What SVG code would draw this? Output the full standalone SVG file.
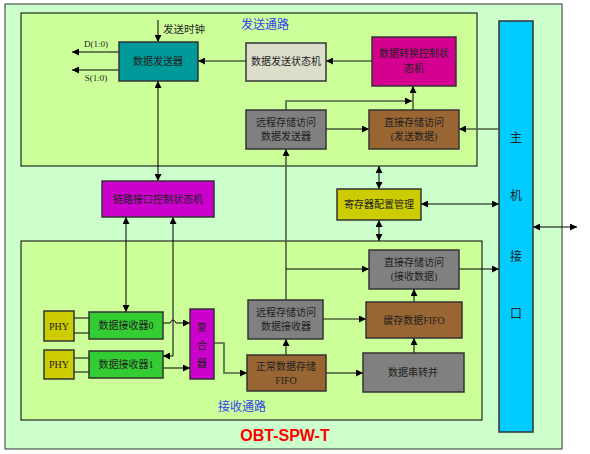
<svg xmlns="http://www.w3.org/2000/svg" width="590" height="454" viewBox="0 0 590 454">
<style>
.box{stroke:#333;stroke-width:1.5}
.t{font-family:"Liberation Serif","Noto Sans CJK SC",serif;font-size:10px;fill:#222;text-anchor:middle}
.lbl{font-family:"Liberation Serif","Noto Sans CJK SC",serif;font-size:12px;fill:#3344ee;text-anchor:middle}
.c{fill:none;stroke:#000;stroke-width:1}
.g{fill:none;stroke:#4f6040;stroke-width:1.6}
</style>
<defs>
<marker id="ah" viewBox="0 0 10 10" refX="10" refY="5" markerWidth="9" markerHeight="7" markerUnits="userSpaceOnUse" orient="auto-start-reverse">
<path d="M0,0 L10,5 L0,10 z" fill="#000"/>
</marker>
</defs>
<rect width="590" height="454" fill="#fff"/>
<g id="outer">
<rect x="5" y="4" width="557" height="445" fill="#CCFFCC" stroke="#333" stroke-width="1"/>
<text x="285" y="441" font-family="Liberation Sans,Arial,sans-serif" font-size="16" font-weight="bold" fill="#ff0000" text-anchor="middle">OBT-SPW-T</text>
</g>
<g id="tx-path">
<rect x="21" y="13" width="456" height="153" fill="#CCFF99" stroke="#000" stroke-width="1"/>
<text class="lbl" x="265" y="29">发送通路</text>
</g>
<g id="rx-path">
<rect x="21" y="241" width="461" height="179" fill="#CCFF99" stroke="#000" stroke-width="1"/>
<text class="lbl" x="242" y="411">接收通路</text>
</g>
<g id="connectors">
<path class="c" d="M158,20 V42" marker-end="url(#ah)"/>
<path class="c" d="M119,52 H72" marker-end="url(#ah)"/>
<path class="c" d="M119,70 H72" marker-end="url(#ah)"/>
<path class="g" d="M246,61 H198" marker-end="url(#ah)"/>
<path class="g" d="M372,61 H326" marker-end="url(#ah)"/>
<path class="c" d="M326,129 H369" marker-end="url(#ah)"/>
<path class="g" d="M499,129 H459" marker-end="url(#ah)"/>
<path class="g" d="M413,110 V86" marker-end="url(#ah)"/>
<path class="g" d="M286,110 V101 H412" marker-end="url(#ah)"/>
<path class="g" d="M286,300 V149" marker-end="url(#ah)"/>
<path class="c" d="M286,269 H369" marker-end="url(#ah)"/>
<path class="c" d="M158,81 V181" marker-start="url(#ah)" marker-end="url(#ah)"/>
<path class="c" d="M126,217 V312" marker-start="url(#ah)" marker-end="url(#ah)"/>
<path class="c" d="M173,217 V356 H163" marker-start="url(#ah)" marker-end="url(#ah)"/>
<path class="c" d="M163,323 H170 Q173,317 176,323 H190" marker-end="url(#ah)"/>
<path class="c" d="M163,368 H190" marker-end="url(#ah)"/>
<path class="g" d="M214,343 H224 V373 H247" marker-end="url(#ah)"/>
<path class="c" d="M286,355 V339" marker-end="url(#ah)"/>
<path class="g" d="M323,319 H366" marker-end="url(#ah)"/>
<path class="c" d="M326,373 H363" marker-end="url(#ah)"/>
<path class="c" d="M414,353 V338" marker-end="url(#ah)"/>
<path class="c" d="M414,302 V289" marker-end="url(#ah)"/>
<path class="c" d="M459,269 H499" marker-end="url(#ah)"/>
<path class="c" d="M379,166 V189" marker-start="url(#ah)" marker-end="url(#ah)"/>
<path class="c" d="M379,220 V241" marker-start="url(#ah)" marker-end="url(#ah)"/>
<path class="c" d="M421,204 H499" marker-start="url(#ah)" marker-end="url(#ah)"/>
<path class="c" d="M533,227 H577" marker-start="url(#ah)" marker-end="url(#ah)"/>
<path class="c" d="M74,318 H89 M74,333 H89"/>
<path class="g" d="M74,358 H89"/>
<path class="c" d="M74,372 H89"/>
</g>
<g id="clk-labels">
<text class="t" x="184" y="33" style="font-size:10.5px">发送时钟</text>
<text class="t" x="96" y="47" style="font-size:9px">D(1:0)</text>
<text class="t" x="96" y="81" style="font-size:9px">S(1:0)</text>
</g>
<g id="host">
<rect class="box" x="499" y="21" width="34" height="411" fill="#00CCFF"/>
<text class="t" x="516" y="142" style="font-size:12px">主</text>
<text class="t" x="516" y="200" style="font-size:12px">机</text>
<text class="t" x="516" y="261" style="font-size:12px">接</text>
<text class="t" x="516" y="318" style="font-size:12px">口</text>
</g>
<g id="data-tx">
<rect class="box" x="119" y="42" width="79" height="39" fill="#009999"/>
<text class="t" x="158" y="65">数据发送器</text>
</g>
<g id="tx-fsm">
<rect class="box" x="246" y="43" width="80" height="38" fill="#DDDDCC"/>
<text class="t" x="286" y="65">数据发送状态机</text>
</g>
<g id="conv-fsm">
<rect class="box" x="372" y="37" width="84" height="49" fill="#D5008F"/>
<text class="t" x="414" y="57">数据转换控制状</text>
<text class="t" x="414" y="72">态机</text>
</g>
<g id="rdma-tx">
<rect class="box" x="246" y="110" width="80" height="39" fill="#808080"/>
<text class="t" x="286" y="126">远程存储访问</text>
<text class="t" x="286" y="140">数据发送器</text>
</g>
<g id="dma-tx">
<rect class="box" x="369" y="110" width="90" height="39" fill="#996633"/>
<text class="t" x="414" y="126">直接存储访问</text>
<text class="t" x="414" y="140">(发送数据)</text>
</g>
<g id="link-fsm">
<rect class="box" x="102" y="181" width="112" height="36" fill="#CC00CC"/>
<text class="t" x="158" y="203">链路接口控制状态机</text>
</g>
<g id="reg-cfg">
<rect class="box" x="337" y="189" width="84" height="31" fill="#CCCC00"/>
<text class="t" x="379" y="208">寄存器配置管理</text>
</g>
<g id="dma-rx">
<rect class="box" x="369" y="250" width="90" height="39" fill="#808080"/>
<text class="t" x="414" y="266">直接存储访问</text>
<text class="t" x="414" y="280">(接收数据)</text>
</g>
<g id="rdma-rx">
<rect class="box" x="248" y="300" width="75" height="39" fill="#808080"/>
<text class="t" x="286" y="316">远程存储访问</text>
<text class="t" x="286" y="330">数据接收器</text>
</g>
<g id="buf-fifo">
<rect class="box" x="366" y="302" width="96" height="36" fill="#996633"/>
<text class="t" x="414" y="324">缓存数据FIFO</text>
</g>
<g id="norm-fifo">
<rect class="box" x="247" y="355" width="79" height="36" fill="#996633"/>
<text class="t" x="286" y="370">正常数据存储</text>
<text class="t" x="286" y="384">FIFO</text>
</g>
<g id="s2p">
<rect class="box" x="363" y="353" width="101" height="39" fill="#808080"/>
<text class="t" x="413" y="376">数据串转并</text>
</g>
<g id="mux">
<rect class="box" x="190" y="309" width="24" height="70" fill="#CC00CC"/>
<text class="t" x="202" y="331">复</text>
<text class="t" x="202" y="349">合</text>
<text class="t" x="202" y="367">器</text>
</g>
<g id="phy0">
<rect class="box" x="44" y="311" width="30" height="30" fill="#CCCC00"/>
<text class="t" x="59" y="330">PHY</text>
</g>
<g id="phy1">
<rect class="box" x="44" y="350" width="30" height="29" fill="#CCCC00"/>
<text class="t" x="59" y="368">PHY</text>
</g>
<g id="rx0">
<rect class="box" x="89" y="312" width="74" height="27" fill="#33CC33"/>
<text class="t" x="126" y="329">数据接收器0</text>
</g>
<g id="rx1">
<rect class="box" x="89" y="351" width="74" height="27" fill="#33CC33"/>
<text class="t" x="126" y="368">数据接收器1</text>
</g>
</svg>
